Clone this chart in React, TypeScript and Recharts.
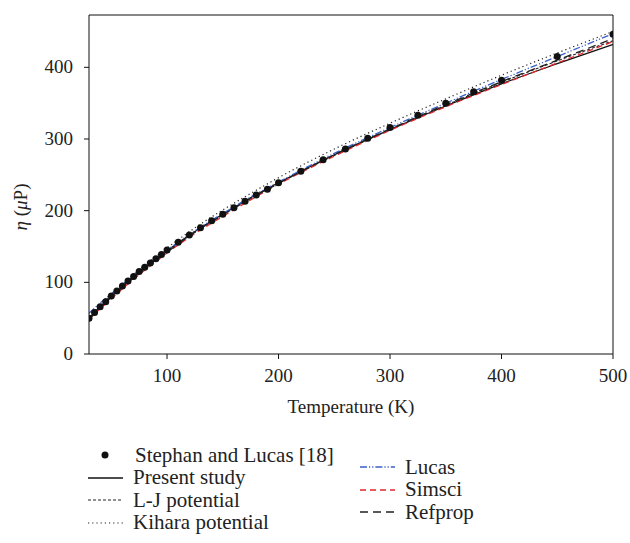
import React from 'react';
import { ComposedChart, Line, Scatter, XAxis, YAxis, ReferenceLine } from 'recharts';

// Stephan and Lucas [18] reference points
const expT = [30, 35, 40, 45, 50, 55, 60, 65, 70, 75, 80, 85, 90, 95, 100, 110, 120, 130, 140, 150, 160, 170, 180, 190, 200, 220, 240, 260, 280, 300, 325, 350, 375, 400, 450, 500];
const expEta = [50, 58, 66, 73, 81, 88, 95, 102, 108, 115, 121, 127, 133, 139, 145, 156, 166, 176, 186, 195, 204, 213, 222, 230, 239, 255, 271, 286, 301, 316, 333, 350, 366, 382, 415, 446];

// model curves
const fitT = [30, 40, 50, 60, 70, 80, 90, 100, 125, 150, 175, 200, 250, 300, 350, 400, 450, 500];
const presentStudy = [50, 66, 80, 94, 108, 120, 132, 144, 171, 195, 218, 239, 278, 313, 346, 377, 405, 432];
const ljPotential = [50, 66, 80, 94, 107, 120, 132, 143, 170, 194, 217, 238, 277, 313, 347, 379, 409, 437];
const kiharaPotential = [52, 68, 83, 97, 111, 124, 136, 148, 176, 201, 224, 246, 286, 322, 356, 389, 420, 450];
const lucas = [57, 71, 84, 97, 110, 122, 134, 145, 172, 196, 219, 240, 280, 316, 350, 383, 415, 447];
const simsci = [48, 63, 77, 91, 104, 117, 129, 141, 168, 192, 215, 237, 276, 312, 345, 376, 406, 436];
const refprop = [49, 64, 79, 93, 106, 119, 131, 142, 170, 194, 217, 238, 278, 314, 348, 380, 410, 440];

const xTicks = [100, 200, 300, 400, 500];
const yTicks = [0, 100, 200, 300, 400];

const FONT = '"Liberation Serif", "Times New Roman", serif';
const FS = 19;
const LEGEND_FS = 21;

const pts = (ts: number[], vs: number[]) => ts.map((T, i) => ({ T, v: vs[i] }));

const series = [
  { name: 'Present study', values: presentStudy, color: '#111', dash: undefined, width: 1.3 },
  { name: 'L-J potential', values: ljPotential, color: '#222', dash: '3 2', width: 1.1 },
  { name: 'Kihara potential', values: kiharaPotential, color: '#222', dash: '1.2 3', width: 1.2 },
  { name: 'Lucas', values: lucas, color: '#3b5fc8', dash: '7 2 1.2 2 1.2 2', width: 1.3 },
  { name: 'Simsci', values: simsci, color: '#e3262d', dash: '6 4', width: 1.3 },
  { name: 'Refprop', values: refprop, color: '#222', dash: '8 5', width: 1.3 },
];

const XTick = ({ x, y, payload }: any) => (
  <text x={x} y={y + 21} textAnchor="middle" style={{ fontFamily: FONT, fontSize: FS }} fill="#222">
    {payload.value}
  </text>
);

const YTick = ({ x, y, payload }: any) => (
  <text x={x - 9} y={y + 6} textAnchor="end" style={{ fontFamily: FONT, fontSize: FS }} fill="#222">
    {payload.value}
  </text>
);

const YTitle = () => (
  <text x={27} y={207} transform="rotate(-90, 27, 207)" textAnchor="middle" style={{ fontFamily: FONT, fontSize: FS }} fill="#222">
    <tspan fontStyle="italic">η</tspan> (<tspan fontStyle="italic">μ</tspan>P)
  </text>
);

const XTitle = () => (
  <text x={351} y={413} textAnchor="middle" style={{ fontFamily: FONT, fontSize: FS }} fill="#222">
    Temperature (K)
  </text>
);

const LegendBox = () => {
  const sym = (s: typeof series[number]) => (
    <svg width={35} height={10} style={{ marginRight: 10 }}>
      <line x1={0} x2={35} y1={5} y2={5} stroke={s.color} strokeWidth={s.width} strokeDasharray={s.dash} />
    </svg>
  );
  const row: React.CSSProperties = { display: 'flex', alignItems: 'center', height: 22.5, whiteSpace: 'nowrap' };
  return (
    <div style={{ position: 'absolute', left: 0, top: 444, width: 630, height: 99, fontFamily: FONT, fontSize: LEGEND_FS, color: '#222' }}>
      <div style={{ position: 'absolute', left: 88, top: 0 }}>
        <div style={row}>
          <svg width={35} height={10} style={{ marginRight: 12 }}>
            <circle cx={17} cy={5} r={3.5} fill="#111" />
          </svg>
          Stephan and Lucas [18]
        </div>
        {series.slice(0, 3).map((s) => (
          <div key={s.name} style={row}>{sym(s)}{s.name}</div>
        ))}
      </div>
      <div style={{ position: 'absolute', left: 360, top: 12 }}>
        {series.slice(3).map((s) => (
          <div key={s.name} style={row}>{sym(s)}{s.name}</div>
        ))}
      </div>
    </div>
  );
};

export default function App() {
  return (
    <div style={{ position: 'absolute', left: 0, top: 0, width: 630, height: 543, background: '#fff', fontFamily: FONT }}>
      <ComposedChart width={630} height={543} margin={{ top: 15, right: 17, bottom: 129, left: 0 }}>
        <XAxis
          type="number"
          dataKey="T"
          domain={[30, 500]}
          ticks={xTicks}
          allowDataOverflow
          stroke="#111"
          tickSize={5}
          tick={<XTick />}
          label={<XTitle />}
          height={60}
        />
        <YAxis
          type="number"
          domain={[0, 473]}
          ticks={yTicks}
          allowDataOverflow
          stroke="#111"
          tickSize={5}
          width={89}
          tick={<YTick />}
          label={<YTitle />}
        />
        <ReferenceLine y={473} stroke="#111" />
        <ReferenceLine x={500} stroke="#111" />
        {series.map((s) => (
          <Line
            key={s.name}
            data={pts(fitT, s.values)}
            dataKey="v"
            name={s.name}
            type="monotone"
            stroke={s.color}
            strokeWidth={s.width}
            strokeDasharray={s.dash}
            dot={false}
            isAnimationActive={false}
          />
        ))}
        <Scatter
          data={pts(expT, expEta)}
          dataKey="v"
          name="Stephan and Lucas [18]"
          fill="#111"
          shape={(p: any) => <circle cx={p.cx} cy={p.cy} r={3.5} fill="#111" />}
          isAnimationActive={false}
        />
      </ComposedChart>
      <LegendBox />
    </div>
  );
}
